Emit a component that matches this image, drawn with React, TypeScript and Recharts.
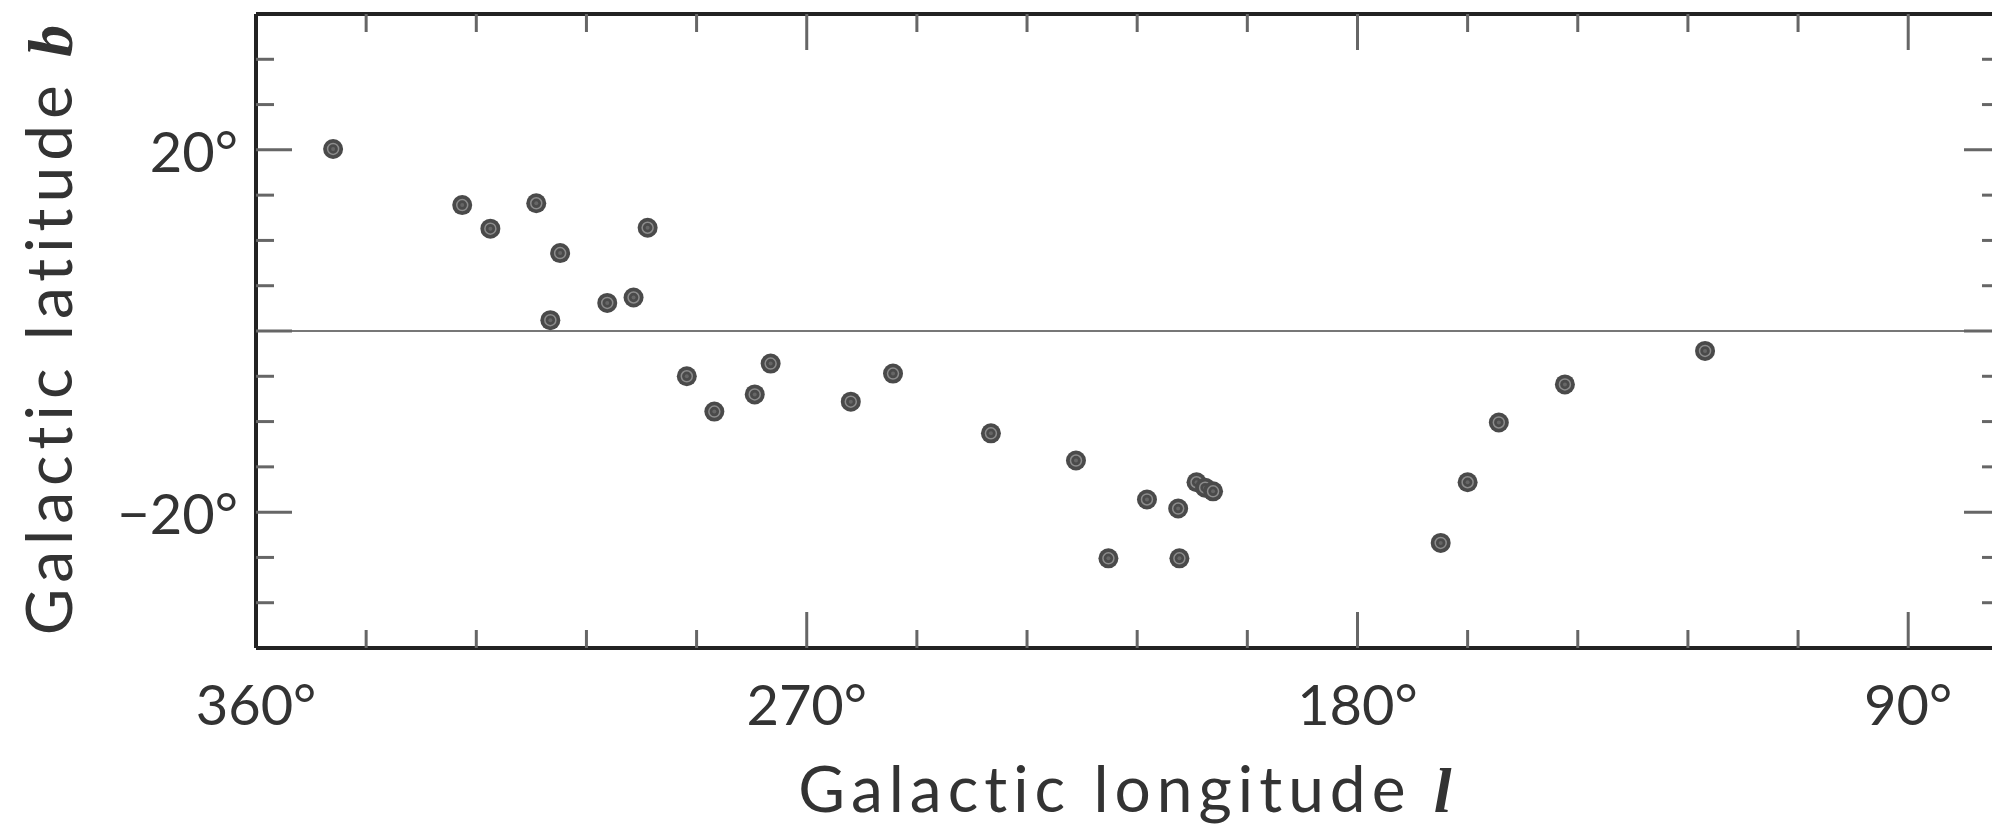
import React from "react";
import {
  ScatterChart,
  Scatter,
  XAxis,
  YAxis,
  ReferenceLine,
  Label,
} from "recharts";

// galactic coordinates of the objects (degrees)
const LONGITUDE = [
  347.4, 326.3, 321.7, 314.2, 310.3, 311.9, 302.6, 298.3, 296.0, 289.6, 285.1,
  278.5, 275.9, 262.8, 255.9, 239.9, 226.0, 220.7, 214.4, 209.3, 209.1, 206.3,
  204.9, 203.6, 166.4, 162.0, 156.9, 146.1, 123.2,
];
const LATITUDE = [
  20.1, 13.9, 11.3, 14.1, 8.6, 1.2, 3.1, 3.7, 11.4, -5.0, -8.9, -7.0, -3.6,
  -7.8, -4.7, -11.3, -14.3, -25.1, -18.6, -19.6, -25.1, -16.7, -17.3, -17.7,
  -23.4, -16.7, -10.1, -5.9, -2.2,
];

// axis ticks
const L_TICKS = [360, 342, 324, 306, 288, 270, 252, 234, 216, 198, 180, 162, 144, 126, 108, 90];
const L_LABELS = [360, 270, 180, 90];
const B_TICKS = [-30, -25, -20, -15, -10, -5, 0, 5, 10, 15, 20, 25, 30];
const B_LABELS = [20, -20];
const B_MAJOR = [20, 0, -20];

const points = LONGITUDE.map((l, i) => ({ l, b: LATITUDE[i] }));

const FONT = "Lato, 'Open Sans', sans-serif";
const TEXT = "#333";
const TICK = "#666";
const FRAME = { stroke: "#222", strokeWidth: 4 };

const deg = (v: number) => `${v < 0 ? "\u2212" : ""}${Math.abs(v)}\u00b0`;

const BottomTick = ({ x, y, payload }: any) => {
  const v = payload.value;
  const major = v % 90 === 0;
  return (
    <g>
      {v !== 360 && (
        <line x1={x} x2={x} y1={y} y2={y - (major ? 36 : 18)} stroke={TICK} strokeWidth={3} />
      )}
      {L_LABELS.includes(v) && (
        <text x={x} y={y + 77} textAnchor="middle" fontFamily={FONT} fontSize={56} fill={TEXT}>
          {deg(v)}
        </text>
      )}
    </g>
  );
};

const TopTick = ({ x, y, payload }: any) => {
  const v = payload.value;
  if (v === 360) return <g />;
  const major = v % 90 === 0;
  return <line x1={x} x2={x} y1={y} y2={y + (major ? 36 : 18)} stroke={TICK} strokeWidth={3} />;
};

const LeftTick = ({ x, y, payload }: any) => {
  const v = payload.value;
  const major = B_MAJOR.includes(v);
  return (
    <g>
      <line x1={x} x2={x + (major ? 36 : 18)} y1={y} y2={y} stroke={TICK} strokeWidth={3} />
      {B_LABELS.includes(v) && (
        <text x={x - 18} y={y + 22} textAnchor="end" fontFamily={FONT} fontSize={56} fill={TEXT}>
          {deg(v)}
        </text>
      )}
    </g>
  );
};

const RightTick = ({ x, y, payload }: any) => {
  const major = B_MAJOR.includes(payload.value);
  return <line x1={x} x2={x - (major ? 36 : 18)} y1={y} y2={y} stroke={TICK} strokeWidth={3} />;
};

const Marker = ({ cx, cy }: any) => (
  <g>
    <circle cx={cx} cy={cy} r={10} fill="#4a4a4a" />
    <circle cx={cx} cy={cy} r={5.5} fill="none" stroke="#8c8c8c" strokeWidth={1.5} />
    <circle cx={cx} cy={cy} r={2} fill="#666" />
  </g>
);

const XTitle = ({ viewBox }: any) => (
  <text
    x={viewBox.x + viewBox.width / 2}
    y={viewBox.y + 164}
    textAnchor="middle"
    fontFamily={FONT}
    fontSize={64}
    letterSpacing={6}
    fill={TEXT}
  >
    Galactic longitude{" "}
    <tspan fontFamily="'Liberation Serif', serif" fontStyle="italic" fontWeight="bold">
      l
    </tspan>
  </text>
);

const YTitle = ({ viewBox }: any) => {
  const cx = 72;
  const cy = viewBox.y + viewBox.height / 2 - 4;
  return (
    <text
      x={cx}
      y={cy}
      transform={`rotate(-90, ${cx}, ${cy})`}
      textAnchor="middle"
      fontFamily={FONT}
      fontSize={64}
      letterSpacing={6}
      fill={TEXT}
    >
      Galactic latitude{" "}
      <tspan fontFamily="'Liberation Serif', serif" fontStyle="italic" fontWeight="bold">
        b
      </tspan>
    </text>
  );
};

export default function App() {
  return (
    <div style={{ width: 1992, height: 826, overflow: "hidden", background: "#fff" }}>
      <style>{"body{margin:0;overflow:hidden}"}</style>
      <ScatterChart width={2010} height={826} margin={{ top: 4, right: 0, bottom: 0, left: 0 }}>
        <XAxis
          xAxisId="b"
          dataKey="l"
          type="number"
          orientation="bottom"
          domain={[75, 360]}
          allowDataOverflow
          reversed
          ticks={L_TICKS}
          interval={0}
          height={178}
          tickSize={0}
          tickMargin={0}
          tickLine={false}
          axisLine={FRAME}
          tick={(p: any) => <BottomTick {...p} />}
        >
          <Label content={(p: any) => <XTitle {...p} />} />
        </XAxis>
        <XAxis
          xAxisId="t"
          dataKey="l"
          type="number"
          orientation="top"
          domain={[75, 360]}
          allowDataOverflow
          reversed
          ticks={L_TICKS}
          interval={0}
          height={10}
          tickSize={0}
          tickMargin={0}
          tickLine={false}
          axisLine={FRAME}
          tick={(p: any) => <TopTick {...p} />}
        />
        <YAxis
          yAxisId="l"
          dataKey="b"
          type="number"
          domain={[-35, 35]}
          allowDataOverflow
          ticks={B_TICKS}
          interval={0}
          width={256}
          tickSize={0}
          tickMargin={0}
          tickLine={false}
          axisLine={FRAME}
          tick={(p: any) => <LeftTick {...p} />}
        >
          <Label content={(p: any) => <YTitle {...p} />} />
        </YAxis>
        <YAxis
          yAxisId="r"
          dataKey="b"
          type="number"
          orientation="right"
          domain={[-35, 35]}
          allowDataOverflow
          ticks={B_TICKS}
          interval={0}
          width={10}
          tickSize={0}
          tickMargin={0}
          tickLine={false}
          axisLine={FRAME}
          tick={(p: any) => <RightTick {...p} />}
        />
        <ReferenceLine xAxisId="b" yAxisId="l" y={0} stroke="#777" strokeWidth={2} />
        {/* invisible copy so the mirrored frame axes get ticks */}
        <Scatter
          xAxisId="t"
          yAxisId="r"
          data={points}
          shape={() => <g />}
          isAnimationActive={false}
        />
        <Scatter
          xAxisId="b"
          yAxisId="l"
          data={points}
          shape={(p: any) => <Marker {...p} />}
          isAnimationActive={false}
        />
      </ScatterChart>
    </div>
  );
}
